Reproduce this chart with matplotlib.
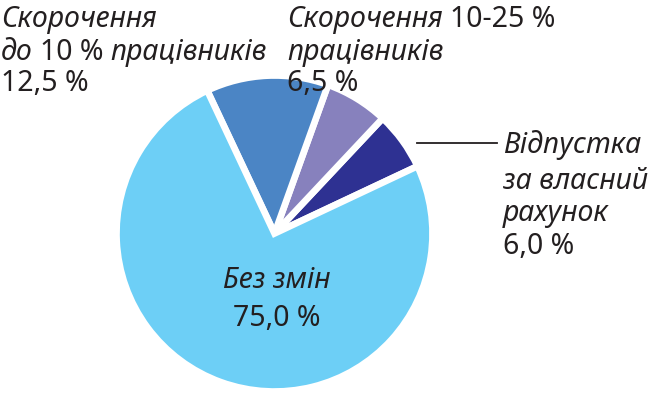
import matplotlib.pyplot as plt

# slice values, counter-clockwise starting from the small navy slice
shares = [6.0, 6.5, 12.5, 75.0]
colors = ['#2e3192', '#8781bd', '#4b85c5', '#6dcff6']

W, H = 653, 393
FONT = 'Noto Sans'
SIZE = 20.5
INK = '#231f20'

fig = plt.figure(figsize=(W / 100, H / 100), dpi=100)

# pie centre at about (274.5, 233.5) px; the white edge eats ~3 px of the radius
cx, cy, r = 274.5, 233.5, 158
ax = fig.add_axes([(cx - r) / W, (H - cy - r) / H, 2 * r / W, 2 * r / H])
ax.pie(shares, colors=colors, startangle=25.2, counterclock=True,
       wedgeprops=dict(edgecolor='white', linewidth=4.8))
ax.set_xlim(-1, 1)
ax.set_ylim(-1, 1)
ax.set_aspect('equal')
ax.axis('off')


def mixed(x, y, parts):
    """parts: list of (text, italic) drawn one after another on a baseline at pixel (x, y)"""
    prev = fig.text(x / W, 1 - y / H, parts[0][0], fontsize=SIZE, family=FONT,
                    style='italic' if parts[0][1] else 'normal', color=INK,
                    va='baseline', ha='left')
    for txt, ital in parts[1:]:
        prev = ax.annotate(txt, xy=(1, 0), xycoords=prev, xytext=(7, 0),
                           textcoords='offset pixels', fontsize=SIZE, family=FONT,
                           style='italic' if ital else 'normal', color=INK,
                           va='bottom', ha='left', annotation_clip=False)


# top left label
mixed(1, 27, [('Скорочення', True)])
mixed(1, 60, [('до', True), ('10 %', False), ('працівників', True)])
mixed(1, 91, [('12,5 %', False)])

# top right label
mixed(287, 27, [('Скорочення', True), ('10-25 %', False)])
mixed(287, 60, [('працівників', True)])
mixed(287, 91, [('6,5 %', False)])

# right label with leader line
mixed(503, 153, [('Відпустка', True)])
mixed(503, 189, [('за власний', True)])
mixed(503, 221, [('рахунок', True)])
mixed(503, 254, [('6,0 %', False)])
fig.add_artist(plt.Line2D([417 / W, 497 / W], [1 - 143 / H, 1 - 143 / H],
                          color=INK, linewidth=1.3))

# centre label
fig.text(277 / W, 1 - 280 / H, 'Без змін', fontsize=SIZE, family=FONT,
         style='italic', color=INK, ha='center', va='center')
fig.text(277 / W, 1 - 318 / H, '75,0 %', fontsize=SIZE, family=FONT,
         color=INK, ha='center', va='center')

fig.savefig('out.png', dpi=100)
